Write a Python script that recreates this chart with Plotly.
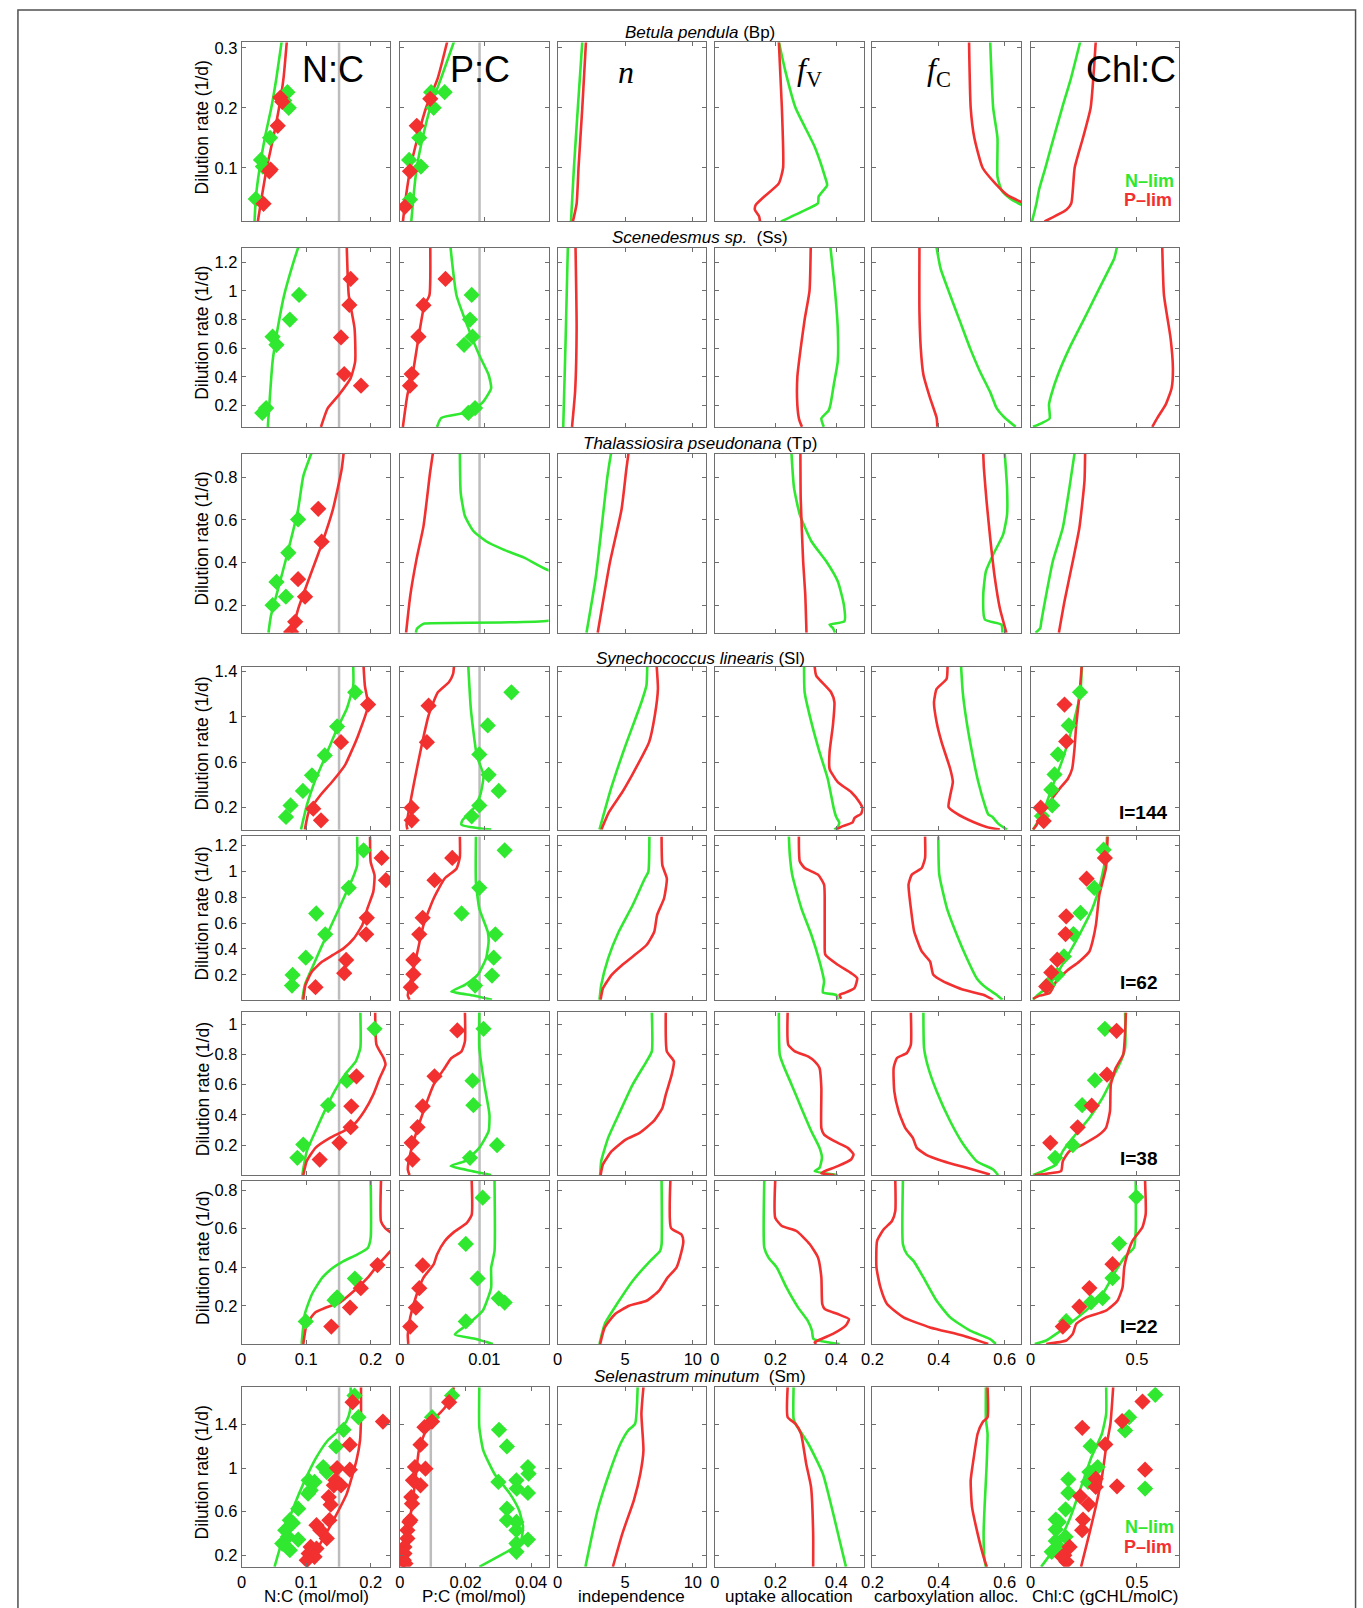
import plotly.graph_objects as go

W, H = 1363, 1608
GREEN = '#30e830'
RED = '#f23030'

# ---------------- data (D = dilution rate, v = value) ----------------
ROWS = ['bp', 'ss', 'tp', 'sl144', 'sl62', 'sl38', 'sl22', 'sm']
VARS = ['nc', 'pc', 'n', 'fv', 'fc', 'chl']
REDFIELD_NC = 0.151
REDFIELD_PC = 0.00943

# Betula pendula
bp_nc_N_d = [0.01, 0.05, 0.1, 0.15, 0.2, 0.25, 0.31]
bp_nc_N_v = [0.020, 0.022, 0.028, 0.036, 0.046, 0.054, 0.062]
bp_nc_P_d = [0.01, 0.05, 0.1, 0.15, 0.2, 0.25, 0.31]
bp_nc_P_v = [0.025, 0.031, 0.039, 0.049, 0.058, 0.065, 0.070]
bp_nc_Nobs_v = [0.022, 0.030, 0.033, 0.044, 0.071, 0.073, 0.066]
bp_nc_Nobs_d = [0.048, 0.113, 0.102, 0.15, 0.226, 0.20, 0.212]
bp_nc_Pobs_v = [0.034, 0.043, 0.045, 0.056, 0.060, 0.063]
bp_nc_Pobs_d = [0.040, 0.094, 0.097, 0.170, 0.217, 0.210]
bp_pc_N_d = [0.01, 0.05, 0.1, 0.15, 0.2, 0.25, 0.31]
bp_pc_N_v = [0.00135, 0.0016, 0.0020, 0.0027, 0.0036, 0.0049, 0.0064]
bp_pc_P_d = [0.01, 0.05, 0.1, 0.15, 0.2, 0.25, 0.31]
bp_pc_P_v = [0.00036, 0.0007, 0.00126, 0.0021, 0.0031, 0.0045, 0.0056]
bp_pc_Nobs_v = [0.0012, 0.0011, 0.0025, 0.0023, 0.0037, 0.0040, 0.0053]
bp_pc_Nobs_d = [0.047, 0.113, 0.102, 0.15, 0.226, 0.20, 0.226]
bp_pc_Pobs_v = [0.0006, 0.0012, 0.0020, 0.0036]
bp_pc_Pobs_d = [0.035, 0.094, 0.170, 0.215]
bp_n_N_d = [0.01, 0.1, 0.2, 0.31]
bp_n_N_v = [0.99, 1.21, 1.5, 1.83]
bp_n_P_d = [0.01, 0.04, 0.1, 0.2, 0.31]
bp_n_P_v = [1.13, 1.41, 1.55, 1.83, 2.1]
bp_fv_N_d = [0.0105, 0.027, 0.041, 0.052, 0.071, 0.085, 0.135, 0.2, 0.262, 0.31]
bp_fv_N_v = [0.218, 0.287, 0.340, 0.342, 0.370, 0.363, 0.329, 0.266, 0.232, 0.211]
bp_fv_P_d = [0.0105, 0.019, 0.03, 0.038, 0.052, 0.074, 0.1, 0.2, 0.31]
bp_fv_P_v = [0.149, 0.146, 0.132, 0.135, 0.163, 0.211, 0.225, 0.221, 0.211]
bp_fc_N_d = [0.038, 0.049, 0.063, 0.085, 0.15, 0.2, 0.31]
bp_fc_N_v = [0.65, 0.616, 0.590, 0.578, 0.578, 0.565, 0.556]
bp_fc_P_d = [0.043, 0.054, 0.074, 0.1, 0.15, 0.2, 0.31]
bp_fc_P_v = [0.65, 0.609, 0.571, 0.533, 0.508, 0.497, 0.492]
bp_chl_N_d = [0.0105, 0.03, 0.046, 0.063, 0.1, 0.15, 0.2, 0.25, 0.31]
bp_chl_N_v = [0.006, 0.020, 0.030, 0.039, 0.069, 0.108, 0.148, 0.19, 0.233]
bp_chl_P_d = [0.0105, 0.03, 0.041, 0.1, 0.15, 0.2, 0.31]
bp_chl_P_v = [0.065, 0.168, 0.191, 0.207, 0.246, 0.282, 0.306]

# Scenedesmus sp.
ss_nc_N_d = [0.049, 0.274, 0.507, 0.74, 0.972, 1.205, 1.302]
ss_nc_N_v = [0.0406, 0.044, 0.048, 0.056, 0.066, 0.0806, 0.0876]
ss_nc_P_d = [0.049, 0.18, 0.274, 0.39, 0.507, 0.74, 0.97, 1.302]
ss_nc_P_v = [0.123, 0.1335, 0.151, 0.169, 0.176, 0.175, 0.166, 0.163]
ss_nc_Nobs_v = [0.032, 0.038, 0.048, 0.054, 0.0747, 0.089]
ss_nc_Nobs_d = [0.147, 0.181, 0.68, 0.623, 0.80, 0.972]
ss_nc_Pobs_v = [0.169, 0.167, 0.154, 0.159, 0.185]
ss_nc_Pobs_d = [1.084, 0.902, 0.675, 0.419, 0.337]
ss_pc_N_d = [0.049, 0.112, 0.158, 0.228, 0.32, 0.414, 0.55, 0.74, 0.97, 1.302]
ss_pc_N_v = [0.0044, 0.0049, 0.0085, 0.0099, 0.0108, 0.0105, 0.0094, 0.0081, 0.0067, 0.0060]
ss_pc_P_d = [0.049, 0.274, 0.414, 0.67, 0.9, 0.97, 1.302]
ss_pc_P_v = [0.00036, 0.0009, 0.0015, 0.0022, 0.0029, 0.0035, 0.0036]
ss_pc_Nobs_v = [0.0085, 0.0083, 0.0086, 0.0076, 0.0081, 0.0089]
ss_pc_Nobs_d = [0.972, 0.8, 0.68, 0.623, 0.147, 0.181]
ss_pc_Pobs_v = [0.0054, 0.0028, 0.0022, 0.0014, 0.0012]
ss_pc_Pobs_d = [1.084, 0.9, 0.68, 0.419, 0.337]
ss_n_N_d = [0.049, 0.6, 1.302]
ss_n_N_v = [0.42, 0.58, 0.76]
ss_n_P_d = [0.049, 0.3, 0.74, 1.302]
ss_n_P_v = [1.07, 1.30, 1.41, 1.33]
ss_fv_N_d = [0.05, 0.108, 0.164, 0.205, 0.345, 0.507, 0.74, 1.0, 1.302]
ss_fv_N_v = [0.359, 0.351, 0.375, 0.381, 0.392, 0.405, 0.405, 0.396, 0.381]
ss_fv_P_d = [0.05, 0.1, 0.2, 0.4, 0.6, 0.8, 1.0, 1.302]
ss_fv_P_v = [0.287, 0.278, 0.272, 0.272, 0.283, 0.296, 0.312, 0.316]
ss_fc_N_d = [0.05, 0.113, 0.182, 0.287, 0.437, 0.6, 0.785, 0.97, 1.156, 1.302]
ss_fc_N_v = [0.633, 0.6, 0.575, 0.557, 0.525, 0.495, 0.465, 0.435, 0.406, 0.394]
ss_fc_P_d = [0.05, 0.113, 0.252, 0.414, 0.6, 0.855, 1.302]
ss_fc_P_v = [0.396, 0.394, 0.374, 0.354, 0.346, 0.342, 0.342]
ss_chl_N_d = [0.05, 0.078, 0.108, 0.205, 0.275, 0.414, 0.6, 0.785, 0.97, 1.133, 1.226, 1.302]
ss_chl_N_v = [0.011, 0.055, 0.089, 0.086, 0.097, 0.128, 0.182, 0.245, 0.307, 0.362, 0.393, 0.405]
ss_chl_P_d = [0.05, 0.113, 0.205, 0.32, 0.46, 0.67, 0.97, 1.302]
ss_chl_P_v = [0.572, 0.596, 0.635, 0.663, 0.669, 0.658, 0.627, 0.619]

# Thalassiosira pseudonana
tp_nc_N_d = [0.071, 0.15, 0.259, 0.446, 0.649, 0.805, 0.911]
tp_nc_N_v = [0.0416, 0.0454, 0.055, 0.0713, 0.0875, 0.0956, 0.108]
tp_nc_P_d = [0.071, 0.181, 0.337, 0.493, 0.649, 0.836, 0.911]
tp_nc_P_v = [0.0778, 0.0875, 0.106, 0.125, 0.1415, 0.155, 0.158]
tp_nc_Nobs_v = [0.0875, 0.0724, 0.054, 0.0686, 0.048]
tp_nc_Nobs_d = [0.602, 0.446, 0.309, 0.24, 0.2]
tp_nc_Pobs_v = [0.1188, 0.124, 0.0875, 0.0983, 0.083, 0.0767]
tp_nc_Pobs_d = [0.652, 0.498, 0.322, 0.24, 0.122, 0.075]
tp_pc_N_d = [0.071, 0.088, 0.106, 0.114, 0.127, 0.25, 0.365, 0.423, 0.462, 0.5, 0.548, 0.618, 0.727, 0.911]
tp_pc_N_v = [0.0019, 0.0020, 0.0025, 0.0029, 0.0176, 0.030, 0.0175, 0.0147, 0.0122, 0.0102, 0.0087, 0.0077, 0.0072, 0.0071]
tp_pc_P_d = [0.071, 0.244, 0.415, 0.571, 0.82, 0.911]
tp_pc_P_v = [0.00074, 0.00123, 0.00197, 0.0028, 0.00357, 0.0039]
tp_n_N_d = [0.071, 0.337, 0.805, 0.911]
tp_n_N_v = [2.14, 2.84, 3.69, 3.95]
tp_n_P_d = [0.071, 0.4, 0.649, 0.84, 0.911]
tp_n_P_v = [2.97, 3.87, 4.73, 5.09, 5.24]
tp_fv_N_d = [0.071, 0.093, 0.109, 0.125, 0.203, 0.312, 0.406, 0.5, 0.625, 0.75, 0.911]
tp_fv_N_v = [0.396, 0.389, 0.378, 0.427, 0.425, 0.405, 0.367, 0.318, 0.28, 0.261, 0.2526]
tp_fv_P_d = [0.071, 0.25, 0.406, 0.7, 0.911]
tp_fv_P_v = [0.302, 0.298, 0.291, 0.283, 0.282]
tp_fc_N_d = [0.071, 0.109, 0.133, 0.25, 0.359, 0.438, 0.531, 0.625, 0.75, 0.911]
tp_fc_N_v = [0.593, 0.59, 0.54, 0.535, 0.543, 0.565, 0.595, 0.607, 0.607, 0.6]
tp_fc_P_d = [0.071, 0.187, 0.328, 0.5, 0.688, 0.84, 0.911]
tp_fc_P_v = [0.605, 0.585, 0.57, 0.557, 0.545, 0.537, 0.535]
tp_chl_N_d = [0.071, 0.093, 0.125, 0.25, 0.406, 0.563, 0.75, 0.911]
tp_chl_N_v = [0.023, 0.045, 0.05, 0.073, 0.104, 0.151, 0.182, 0.206]
tp_chl_P_d = [0.071, 0.219, 0.406, 0.563, 0.782, 0.911]
tp_chl_P_v = [0.1325, 0.159, 0.198, 0.229, 0.253, 0.256]

# Synechococcus linearis, I=144
sl144_nc_N_d = [0.006, 0.22, 0.426, 0.661, 0.896, 1.072, 1.277, 1.444]
sl144_nc_N_v = [0.092, 0.101, 0.113, 0.1306, 0.148, 0.163, 0.173, 0.173]
sl144_nc_P_d = [0.006, 0.162, 0.309, 0.426, 0.573, 0.72, 0.837, 1.1, 1.277, 1.444]
sl144_nc_P_v = [0.098, 0.104, 0.122, 0.14, 0.16, 0.172, 0.1806, 0.196, 0.191, 0.189]
sl144_nc_Nobs_v = [0.0688, 0.0759, 0.095, 0.109, 0.1288, 0.148, 0.176]
sl144_nc_Nobs_d = [0.118, 0.22, 0.347, 0.485, 0.661, 0.916, 1.218]
sl144_nc_Pobs_v = [0.196, 0.154, 0.111, 0.123]
sl144_nc_Pobs_d = [1.11, 0.778, 0.191, 0.088]
sl144_pc_N_d = [0.006, 0.05, 0.088, 0.191, 0.309, 0.485, 0.661, 1.072, 1.444]
sl144_pc_N_v = [0.0108, 0.0073, 0.0074, 0.0087, 0.0095, 0.0099, 0.0091, 0.0084, 0.0081]
sl144_pc_P_d = [0.006, 0.05, 0.191, 0.426, 0.72, 1.013, 1.218, 1.307, 1.38, 1.444]
sl144_pc_P_v = [0.0009, 0.0008, 0.0011, 0.0017, 0.0025, 0.0034, 0.0045, 0.0058, 0.0063, 0.0064]
sl144_pc_Nobs_v = [0.0132, 0.0104, 0.0094, 0.0105, 0.0117, 0.0094, 0.0085]
sl144_pc_Nobs_d = [1.218, 0.925, 0.67, 0.49, 0.347, 0.22, 0.124]
sl144_pc_Pobs_v = [0.0034, 0.0032, 0.0014, 0.0014]
sl144_pc_Pobs_d = [1.1, 0.778, 0.2, 0.088]
sl144_n_N_d = [0.006, 0.367, 0.72, 1.13, 1.277, 1.444]
sl144_n_N_v = [3.1, 3.95, 4.94, 6.2, 6.57, 6.63]
sl144_n_P_d = [0.006, 0.162, 0.338, 0.485, 0.661, 0.778, 1.013, 1.248, 1.444]
sl144_n_P_v = [3.24, 3.81, 4.79, 5.5, 6.29, 6.77, 7.19, 7.42, 7.33]
sl144_fv_N_d = [0.006, 0.03, 0.07, 0.117, 0.191, 0.455, 0.69, 0.954, 1.218, 1.444]
sl144_fv_N_v = [0.394, 0.405, 0.41, 0.40, 0.392, 0.372, 0.345, 0.318, 0.296, 0.294]
sl144_fv_P_d = [0.006, 0.03, 0.07, 0.108, 0.147, 0.191, 0.25, 0.338, 0.426, 0.543, 0.69, 0.925, 1.13, 1.218, 1.365, 1.444]
sl144_fv_P_v = [0.40, 0.416, 0.454, 0.46, 0.482, 0.487, 0.476, 0.449, 0.405, 0.378, 0.378, 0.389, 0.394, 0.383, 0.334, 0.329]
sl144_fc_N_d = [0.006, 0.059, 0.117, 0.141, 0.22, 0.426, 0.66, 0.954, 1.218, 1.444]
sl144_fc_N_v = [0.607, 0.58, 0.563, 0.55, 0.54, 0.52, 0.503, 0.485, 0.473, 0.468]
sl144_fc_P_d = [0.006, 0.03, 0.073, 0.147, 0.206, 0.308, 0.426, 0.543, 0.778, 0.954, 1.13, 1.247, 1.335, 1.444]
sl144_fc_P_v = [0.585, 0.545, 0.505, 0.455, 0.43, 0.435, 0.443, 0.435, 0.409, 0.394, 0.386, 0.394, 0.424, 0.427]
sl144_chl_N_d = [0.006, 0.103, 0.191, 0.397, 0.631, 0.925, 1.218, 1.444]
sl144_chl_N_v = [0.011, 0.042, 0.065, 0.104, 0.151, 0.198, 0.234, 0.24]
sl144_chl_P_d = [0.006, 0.044, 0.132, 0.25, 0.367, 0.455, 0.543, 0.719, 0.925, 1.189, 1.444]
sl144_chl_P_v = [0.011, 0.0265, 0.05, 0.089, 0.136, 0.175, 0.195, 0.206, 0.214, 0.229, 0.24]
sl144_chl_Nobs_v = [0.232, 0.179, 0.128, 0.112, 0.097, 0.101, 0.053]
sl144_chl_Nobs_d = [1.218, 0.925, 0.669, 0.493, 0.358, 0.22, 0.126]
sl144_chl_Pobs_v = [0.159, 0.167, 0.047, 0.061]
sl144_chl_Pobs_d = [1.11, 0.784, 0.2, 0.082]

# Synechococcus linearis, I=62
sl62_nc_N_d = [0.008, 0.123, 0.251, 0.405, 0.61, 0.79, 0.969, 1.046, 1.269]
sl62_nc_N_v = [0.094, 0.098, 0.109, 0.1226, 0.1415, 0.158, 0.174, 0.179, 0.179]
sl62_nc_P_d = [0.008, 0.123, 0.226, 0.303, 0.354, 0.405, 0.482, 0.585, 0.713, 0.841, 0.969, 1.072, 1.269]
sl62_nc_P_v = [0.0956, 0.099, 0.109, 0.125, 0.1415, 0.158, 0.174, 0.187, 0.195, 0.204, 0.206, 0.20, 0.199]
sl62_nc_Nobs_v = [0.189, 0.166, 0.1156, 0.1296, 0.0994, 0.079, 0.078]
sl62_nc_Nobs_d = [1.162, 0.872, 0.674, 0.513, 0.333, 0.2, 0.118]
sl62_nc_Pobs_v = [0.217, 0.2236, 0.194, 0.193, 0.162, 0.159, 0.1145]
sl62_nc_Pobs_d = [1.103, 0.931, 0.641, 0.513, 0.315, 0.213, 0.105]
sl62_pc_N_d = [0.008, 0.041, 0.072, 0.123, 0.2, 0.328, 0.456, 0.533, 0.713, 0.918, 1.269]
sl62_pc_N_v = [0.0109, 0.0087, 0.0061, 0.0077, 0.0092, 0.0102, 0.0105, 0.0104, 0.0094, 0.009, 0.009]
sl62_pc_P_d = [0.008, 0.04, 0.174, 0.354, 0.585, 0.79, 0.944, 1.02, 1.11, 1.269]
sl62_pc_P_v = [0.00115, 0.00094, 0.00136, 0.002, 0.0028, 0.004, 0.0053, 0.0067, 0.0071, 0.0071]
sl62_pc_Nobs_v = [0.0124, 0.0094, 0.0073, 0.0113, 0.0111, 0.0109, 0.0089]
sl62_pc_Nobs_d = [1.162, 0.872, 0.674, 0.513, 0.333, 0.195, 0.118]
sl62_pc_Pobs_v = [0.0062, 0.0041, 0.0027, 0.0023, 0.0016, 0.0016, 0.0013]
sl62_pc_Pobs_d = [1.103, 0.931, 0.641, 0.513, 0.315, 0.205, 0.105]
sl62_n_N_d = [0.008, 0.123, 0.328, 0.533, 0.738, 0.944, 0.995, 1.269]
sl62_n_N_v = [3.1, 3.23, 3.74, 4.52, 5.55, 6.45, 6.71, 6.79]
sl62_n_P_d = [0.008, 0.097, 0.2, 0.277, 0.341, 0.431, 0.533, 0.662, 0.79, 0.944, 1.046, 1.269]
sl62_n_P_v = [3.18, 3.36, 4.0, 4.78, 5.55, 6.58, 7.15, 7.36, 7.87, 8.08, 7.75, 7.69]
sl62_fv_N_d = [0.008, 0.045, 0.065, 0.15, 0.304, 0.51, 0.716, 0.974, 1.128, 1.27]
sl62_fv_N_v = [0.405, 0.40, 0.356, 0.36, 0.345, 0.318, 0.285, 0.255, 0.247, 0.244]
sl62_fv_P_d = [0.016, 0.047, 0.06, 0.098, 0.175, 0.214, 0.278, 0.356, 0.459, 0.716, 0.897, 0.974, 1.025, 1.077, 1.27]
sl62_fv_P_v = [0.416, 0.411, 0.427, 0.46, 0.469, 0.449, 0.405, 0.364, 0.362, 0.362, 0.36, 0.34, 0.296, 0.28, 0.277]
sl62_fc_N_d = [0.008, 0.047, 0.098, 0.175, 0.33, 0.51, 0.716, 0.974, 1.27]
sl62_fc_N_v = [0.593, 0.575, 0.545, 0.515, 0.485, 0.455, 0.425, 0.402, 0.399]
sl62_fc_P_d = [0.008, 0.047, 0.085, 0.15, 0.201, 0.304, 0.381, 0.536, 0.716, 0.897, 0.974, 1.025, 1.103, 1.27]
sl62_fc_P_v = [0.565, 0.535, 0.475, 0.414, 0.384, 0.374, 0.349, 0.326, 0.316, 0.309, 0.319, 0.349, 0.359, 0.359]
sl62_chl_N_d = [0.008, 0.047, 0.098, 0.201, 0.33, 0.51, 0.716, 0.922, 1.128, 1.27]
sl62_chl_N_v = [0.011, 0.034, 0.073, 0.12, 0.167, 0.229, 0.291, 0.33, 0.354, 0.359]
sl62_chl_P_d = [0.016, 0.04, 0.06, 0.15, 0.227, 0.304, 0.381, 0.459, 0.588, 0.819, 1.025, 1.27]
sl62_chl_P_v = [0.011, 0.042, 0.089, 0.12, 0.167, 0.229, 0.276, 0.291, 0.307, 0.323, 0.354, 0.362]
sl62_chl_Nobs_v = [0.343, 0.299, 0.234, 0.201, 0.156, 0.125, 0.081]
sl62_chl_Nobs_d = [1.167, 0.871, 0.678, 0.515, 0.343, 0.201, 0.124]
sl62_chl_Pobs_v = [0.349, 0.263, 0.167, 0.164, 0.125, 0.097, 0.073]
sl62_chl_Pobs_d = [1.103, 0.943, 0.652, 0.515, 0.317, 0.219, 0.111]

# Synechococcus linearis, I=38
sl38_nc_N_d = [0.002, 0.16, 0.292, 0.446, 0.556, 0.666, 0.754, 0.842, 1.077]
sl38_nc_N_v = [0.094, 0.101, 0.1145, 0.131, 0.144, 0.16, 0.177, 0.184, 0.184]
sl38_nc_P_d = [0.002, 0.095, 0.182, 0.248, 0.292, 0.336, 0.424, 0.534, 0.644, 0.732, 0.776, 0.864, 1.077]
sl38_nc_P_v = [0.0956, 0.101, 0.1145, 0.137, 0.158, 0.174, 0.19, 0.204, 0.214, 0.223, 0.22, 0.209, 0.207]
sl38_nc_Nobs_v = [0.206, 0.163, 0.134, 0.0956, 0.0864]
sl38_nc_Nobs_d = [0.969, 0.626, 0.464, 0.204, 0.116]
sl38_nc_Pobs_v = [0.178, 0.17, 0.169, 0.1516, 0.121]
sl38_nc_Pobs_d = [0.655, 0.457, 0.319, 0.215, 0.105]
sl38_pc_N_d = [0.002, 0.029, 0.062, 0.095, 0.182, 0.292, 0.402, 0.6, 0.842, 1.077]
sl38_pc_N_v = [0.0108, 0.0085, 0.006, 0.0077, 0.0094, 0.0105, 0.0106, 0.010, 0.0094, 0.0094]
sl38_pc_P_d = [0.002, 0.04, 0.16, 0.292, 0.424, 0.6, 0.71, 0.776, 0.82, 0.886, 1.077]
sl38_pc_P_v = [0.00115, 0.00094, 0.0013, 0.002, 0.0028, 0.004, 0.0053, 0.0061, 0.0073, 0.0077, 0.0077]
sl38_pc_Nobs_v = [0.0099, 0.0086, 0.0087, 0.0115, 0.0083]
sl38_pc_Nobs_d = [0.969, 0.626, 0.464, 0.2, 0.116]
sl38_pc_Pobs_v = [0.0068, 0.0041, 0.0027, 0.0021, 0.0014, 0.0015]
sl38_pc_Pobs_d = [0.958, 0.655, 0.457, 0.319, 0.215, 0.105]
sl38_n_N_d = [0.002, 0.095, 0.248, 0.402, 0.6, 0.754, 0.82, 1.077]
sl38_n_N_v = [3.15, 3.23, 3.74, 4.52, 5.55, 6.58, 6.97, 6.97]
sl38_n_P_d = [0.002, 0.073, 0.16, 0.237, 0.281, 0.358, 0.446, 0.534, 0.666, 0.754, 0.82, 1.077]
sl38_n_P_v = [3.18, 3.36, 4.0, 5.04, 6.07, 7.1, 7.75, 8.0, 8.44, 8.6, 8.08, 8.0]
sl38_fv_N_d = [0.002, 0.028, 0.05, 0.116, 0.182, 0.292, 0.446, 0.6, 0.732, 0.798, 1.077]
sl38_fv_N_v = [0.405, 0.329, 0.345, 0.353, 0.345, 0.318, 0.285, 0.253, 0.225, 0.214, 0.211]
sl38_fv_P_d = [0.002, 0.013, 0.028, 0.061, 0.105, 0.138, 0.182, 0.226, 0.27, 0.314, 0.578, 0.71, 0.754, 0.787, 0.82, 0.864, 1.077]
sl38_fv_P_v = [0.394, 0.351, 0.362, 0.405, 0.449, 0.457, 0.438, 0.394, 0.36, 0.351, 0.351, 0.345, 0.329, 0.307, 0.264, 0.242, 0.24]
sl38_fc_N_d = [0.002, 0.039, 0.094, 0.204, 0.358, 0.556, 0.71, 0.842, 1.077]
sl38_fc_N_v = [0.58, 0.565, 0.515, 0.475, 0.435, 0.394, 0.369, 0.356, 0.354]
sl38_fc_P_d = [0.006, 0.05, 0.094, 0.134, 0.182, 0.248, 0.314, 0.424, 0.556, 0.71, 0.776, 0.809, 0.864, 1.077]
sl38_fc_P_v = [0.555, 0.485, 0.414, 0.364, 0.334, 0.322, 0.299, 0.279, 0.266, 0.264, 0.274, 0.304, 0.316, 0.316]
sl38_chl_N_d = [0.002, 0.028, 0.072, 0.16, 0.248, 0.38, 0.512, 0.666, 0.754, 0.842, 1.077]
sl38_chl_N_v = [0.011, 0.058, 0.12, 0.151, 0.198, 0.276, 0.338, 0.393, 0.424, 0.444, 0.444]
sl38_chl_P_d = [0.002, 0.014, 0.028, 0.094, 0.16, 0.204, 0.27, 0.314, 0.424, 0.6, 0.71, 0.798, 1.077]
sl38_chl_P_v = [0.019, 0.089, 0.143, 0.151, 0.182, 0.245, 0.323, 0.354, 0.373, 0.377, 0.4, 0.435, 0.448]
sl38_chl_Nobs_v = [0.349, 0.302, 0.242, 0.198, 0.115]
sl38_chl_Nobs_d = [0.969, 0.629, 0.464, 0.2, 0.116]
sl38_chl_Pobs_v = [0.404, 0.359, 0.287, 0.221, 0.092]
sl38_chl_Pobs_d = [0.956, 0.666, 0.461, 0.318, 0.215]

# Synechococcus linearis, I=22
sl22_nc_N_d = [0.002, 0.157, 0.26, 0.346, 0.397, 0.432, 0.466, 0.5, 0.552, 0.847]
sl22_nc_N_v = [0.093, 0.098, 0.109, 0.125, 0.1415, 0.158, 0.179, 0.1955, 0.2, 0.2]
sl22_nc_P_d = [0.002, 0.106, 0.166, 0.191, 0.217, 0.277, 0.346, 0.415, 0.483, 0.54, 0.603, 0.638, 0.847]
sl22_nc_P_v = [0.0956, 0.101, 0.1145, 0.1307, 0.152, 0.174, 0.1955, 0.2117, 0.2306, 0.245, 0.2225, 0.216, 0.216]
sl22_nc_Nobs_v = [0.0994, 0.144, 0.148, 0.1755]
sl22_nc_Nobs_d = [0.119, 0.229, 0.243, 0.341]
sl22_nc_Pobs_v = [0.139, 0.168, 0.1847, 0.2106]
sl22_nc_Pobs_d = [0.092, 0.191, 0.291, 0.411]
sl22_pc_N_d = [0.002, 0.028, 0.051, 0.106, 0.174, 0.294, 0.397, 0.483, 0.847]
sl22_pc_N_v = [0.011, 0.009, 0.0065, 0.0081, 0.0098, 0.0108, 0.0108, 0.0112, 0.0112]
sl22_pc_P_d = [0.002, 0.05, 0.14, 0.26, 0.346, 0.415, 0.466, 0.535, 0.586, 0.629, 0.672, 0.847]
sl22_pc_P_v = [0.001, 0.00094, 0.00123, 0.002, 0.0028, 0.004, 0.0044, 0.0053, 0.0065, 0.0079, 0.0085, 0.0085]
sl22_pc_Nobs_v = [0.0098, 0.0078, 0.0092, 0.0117, 0.0124, 0.0078]
sl22_pc_Nobs_d = [0.761, 0.521, 0.342, 0.239, 0.217, 0.119]
sl22_pc_Pobs_v = [0.0027, 0.0023, 0.0019, 0.00123]
sl22_pc_Pobs_d = [0.409, 0.291, 0.191, 0.092]
sl22_n_N_d = [0.002, 0.106, 0.209, 0.329, 0.432, 0.483, 0.518, 0.847]
sl22_n_N_v = [3.1, 3.49, 4.39, 5.55, 6.84, 7.57, 7.69, 7.69]
sl22_n_P_d = [0.002, 0.088, 0.157, 0.2, 0.226, 0.277, 0.346, 0.397, 0.449, 0.535, 0.569, 0.603, 0.847]
sl22_n_P_v = [3.15, 3.49, 4.26, 5.29, 6.58, 7.49, 8.13, 8.78, 9.04, 9.3, 9.17, 8.39, 8.34]
sl22_fv_N_d = [0.002, 0.028, 0.071, 0.123, 0.192, 0.295, 0.399, 0.45, 0.502, 0.847]
sl22_fv_N_v = [0.411, 0.325, 0.32, 0.306, 0.274, 0.236, 0.204, 0.177, 0.163, 0.163]
sl22_fv_P_d = [0.002, 0.011, 0.02, 0.054, 0.097, 0.131, 0.157, 0.183, 0.209, 0.347, 0.45, 0.519, 0.588, 0.614, 0.657, 0.847]
sl22_fv_P_v = [0.334, 0.329, 0.34, 0.389, 0.431, 0.442, 0.405, 0.362, 0.354, 0.351, 0.34, 0.313, 0.269, 0.221, 0.199, 0.199]
sl22_fc_N_d = [0.002, 0.028, 0.071, 0.14, 0.226, 0.347, 0.433, 0.468, 0.519, 0.847]
sl22_fc_N_v = [0.573, 0.555, 0.495, 0.435, 0.394, 0.354, 0.324, 0.304, 0.292, 0.292]
sl22_fc_P_d = [0.002, 0.045, 0.088, 0.14, 0.209, 0.295, 0.399, 0.537, 0.597, 0.64, 0.692, 0.847]
sl22_fc_P_v = [0.55, 0.475, 0.374, 0.294, 0.244, 0.224, 0.212, 0.214, 0.234, 0.259, 0.269, 0.269]
sl22_chl_N_d = [0.002, 0.02, 0.054, 0.106, 0.175, 0.261, 0.381, 0.45, 0.502, 0.588, 0.847]
sl22_chl_N_v = [0.019, 0.073, 0.12, 0.182, 0.26, 0.338, 0.4, 0.44, 0.486, 0.494, 0.494]
sl22_chl_P_d = [0.002, 0.02, 0.054, 0.106, 0.14, 0.175, 0.226, 0.295, 0.399, 0.468, 0.537, 0.606, 0.675, 0.847]
sl22_chl_P_v = [0.073, 0.167, 0.198, 0.214, 0.26, 0.354, 0.408, 0.432, 0.44, 0.455, 0.479, 0.525, 0.541, 0.538]
sl22_chl_Nobs_v = [0.497, 0.416, 0.385, 0.338, 0.284, 0.167]
sl22_chl_Nobs_d = [0.764, 0.523, 0.344, 0.24, 0.218, 0.12]
sl22_chl_Pobs_v = [0.385, 0.276, 0.229, 0.151]
sl22_chl_Pobs_d = [0.416, 0.292, 0.195, 0.092]

# Selenastrum minutum
sm_nc_N_d = [0.093, 0.398, 0.643, 0.887, 1.1, 1.253, 1.345, 1.436, 1.528, 1.742]
sm_nc_N_v = [0.051, 0.066, 0.0806, 0.098, 0.116, 0.1335, 0.151, 0.163, 0.168, 0.169]
sm_nc_P_d = [0.093, 0.215, 0.368, 0.551, 0.765, 1.07, 1.253, 1.467, 1.742]
sm_nc_P_v = [0.101, 0.113, 0.128, 0.145, 0.163, 0.178, 0.1835, 0.185, 0.185]
sm_nc_Nobs_v = [0.175, 0.181, 0.158, 0.1465, 0.1265, 0.132, 0.104, 0.113, 0.107, 0.103, 0.0877, 0.0747, 0.0794, 0.0676, 0.0718, 0.063, 0.0747, 0.0877]
sm_nc_Nobs_d = [1.666, 1.467, 1.351, 1.198, 1.009, 0.963, 0.887, 0.872, 0.795, 0.765, 0.627, 0.521, 0.496, 0.429, 0.368, 0.307, 0.246, 0.343]
sm_nc_Pobs_v = [0.219, 0.172, 0.1677, 0.1677, 0.148, 0.1454, 0.143, 0.154, 0.135, 0.138, 0.136, 0.116, 0.122, 0.132, 0.107, 0.116, 0.104, 0.113, 0.101]
sm_nc_Pobs_d = [1.427, 1.605, 1.214, 0.985, 1.0, 0.887, 0.841, 0.841, 0.734, 0.664, 0.521, 0.475, 0.429, 0.353, 0.276, 0.261, 0.215, 0.185, 0.154]
sm_pc_N_d = [0.093, 0.169, 0.246, 0.337, 0.46, 0.612, 0.765, 0.948, 1.162, 1.375, 1.742]
sm_pc_N_v = [0.0242, 0.0288, 0.0335, 0.0369, 0.0375, 0.0363, 0.0335, 0.0288, 0.0254, 0.0242, 0.0242]
sm_pc_P_d = [0.093, 0.337, 0.551, 0.856, 1.162, 1.315, 1.406, 1.559, 1.666, 1.742]
sm_pc_P_v = [0.0012, 0.0021, 0.0032, 0.0046, 0.0058, 0.0075, 0.0092, 0.0138, 0.0159, 0.0164]
sm_pc_Nobs_v = [0.0159, 0.0098, 0.0302, 0.0326, 0.039, 0.0392, 0.0355, 0.030, 0.0356, 0.039, 0.0326, 0.0326, 0.0355, 0.0355, 0.039, 0.0355, 0.0355]
sm_pc_Nobs_d = [1.666, 1.467, 1.351, 1.198, 1.009, 0.948, 0.887, 0.872, 0.811, 0.771, 0.627, 0.521, 0.505, 0.429, 0.343, 0.307, 0.231]
sm_pc_Pobs_v = [0.015, 0.0098, 0.0075, 0.0063, 0.0078, 0.0046, 0.004, 0.0063, 0.0035, 0.0037, 0.0032, 0.0023, 0.0023, 0.0014, 0.0014, 0.0012, 0.0017, 0.0029]
sm_pc_Pobs_d = [1.605, 1.427, 1.375, 1.214, 0.994, 1.009, 0.887, 0.841, 0.734, 0.673, 0.521, 0.429, 0.353, 0.276, 0.215, 0.154, 0.123, 0.505]
sm_n_N_d = [0.093, 0.612, 0.948, 1.223, 1.345, 1.406, 1.742]
sm_n_N_v = [2.06, 2.96, 3.81, 4.65, 5.22, 5.73, 5.92]
sm_n_P_d = [0.093, 0.398, 0.704, 0.948, 1.162, 1.498, 1.742]
sm_n_P_v = [4.09, 4.79, 5.64, 6.12, 6.35, 6.2, 6.35]
sm_fv_N_d = [0.093, 0.337, 0.582, 0.948, 1.223, 1.406, 1.452, 1.742]
sm_fv_N_v = [0.432, 0.411, 0.39, 0.356, 0.308, 0.266, 0.2595, 0.2595]
sm_fv_P_d = [0.093, 0.398, 0.826, 1.04, 1.315, 1.406, 1.467, 1.742]
sm_fv_P_v = [0.324, 0.324, 0.317, 0.301, 0.284, 0.266, 0.24, 0.24]
sm_fc_N_d = [0.093, 0.154, 0.398, 0.643, 1.009, 1.315, 1.452, 1.742]
sm_fc_N_v = [0.543, 0.539, 0.536, 0.539, 0.545, 0.548, 0.543, 0.543]
sm_fc_P_d = [0.093, 0.185, 0.398, 0.643, 0.887, 1.07, 1.315, 1.421, 1.467, 1.742]
sm_fc_P_v = [0.546, 0.536, 0.518, 0.501, 0.497, 0.505, 0.518, 0.533, 0.548, 0.548]
sm_chl_N_d = [0.093, 0.307, 0.551, 0.826, 1.101, 1.315, 1.498, 1.742]
sm_chl_N_v = [0.049, 0.128, 0.187, 0.237, 0.286, 0.335, 0.355, 0.355]
sm_chl_P_d = [0.093, 0.398, 0.643, 0.917, 1.192, 1.406, 1.742]
sm_chl_P_v = [0.237, 0.276, 0.306, 0.335, 0.355, 0.375, 0.388]
sm_chl_Nobs_v = [0.586, 0.463, 0.444, 0.282, 0.315, 0.276, 0.27, 0.177, 0.538, 0.177, 0.164, 0.118, 0.132, 0.118, 0.164, 0.118, 0.099, 0.134]
sm_chl_Nobs_d = [1.672, 1.467, 1.345, 1.201, 1.009, 0.963, 0.872, 0.896, 0.811, 0.771, 0.621, 0.527, 0.505, 0.435, 0.368, 0.331, 0.231, 0.27]
sm_chl_Pobs_v = [0.526, 0.43, 0.2425, 0.351, 0.538, 0.406, 0.306, 0.306, 0.233, 0.272, 0.246, 0.242, 0.183, 0.158, 0.168, 0.148]
sm_chl_Pobs_d = [1.61, 1.431, 1.37, 1.217, 0.985, 0.832, 0.902, 0.826, 0.74, 0.667, 0.527, 0.429, 0.276, 0.2, 0.14, 0.185]

# tick labels
ROW_YTICKS = [
    [0.1, 0.2, 0.3],
    [0.2, 0.4, 0.6, 0.8, 1, 1.2],
    [0.2, 0.4, 0.6, 0.8],
    [0.2, 0.6, 1, 1.4],
    [0.2, 0.4, 0.6, 0.8, 1, 1.2],
    [0.2, 0.4, 0.6, 0.8, 1],
    [0.2, 0.4, 0.6, 0.8],
    [0.2, 0.6, 1, 1.4],
]
COL_XTICKS = {'nc': [0, 0.1, 0.2], 'pc': [0, 0.01], 'n': [0, 5, 10],
              'fv': [0, 0.2, 0.4], 'fc': [0.2, 0.4, 0.6], 'chl': [0, 0.5]}
SM_PC_XTICKS = [0, 0.02, 0.04]
SPECIES_TITLES = ['<i>Betula pendula</i> (Bp)', '<i>Scenedesmus sp.</i>\u00a0 (Ss)',
                  '<i>Thalassiosira pseudonana</i> (Tp)', '<i>Synechococcus linearis</i> (Sl)',
                  '<i>Selenastrum minutum</i>\u00a0 (Sm)']
XTITLES = ['N:C (mol/mol)', 'P:C (mol/mol)', 'independence', 'uptake allocation',
           'carboxylation alloc.', 'Chl:C (gCHL/molC)']
LIGHT_LABELS = ['I=144', 'I=62', 'I=38', 'I=22']

# ---------------- geometry / axis settings ----------------
COL_L = [232.5, 392, 551, 709.5, 868.5, 1028]
PW = 150
ROW_TB = [(38.5, 218), (244.3, 424), (450.7, 630.3), (664.3, 827.7),
          (834.5, 998.3), (1011, 1174), (1180, 1343.3), (1386.7, 1566.7)]
XR = {'nc': [0, 0.2306], 'pc': [0, 0.0176], 'n': [0, 11], 'fv': [0, 0.49],
      'fc': [0.2, 0.65], 'chl': [0, 0.70]}
SM_PC_XR = [0, 0.0453]
YR = [[0.0105, 0.309], [0.049, 1.302], [0.071, 0.911], [0.006, 1.444],
      [0.0077, 1.269], [0.002, 1.077], [0.002, 0.847], [0.093, 1.742]]

FONT = 'Liberation Sans, Arial, Helvetica, sans-serif'
SERIF = 'Liberation Serif, DejaVu Serif, serif'
AXC = '#6e6e6e'
G = globals()


def fmt(v):
    return '%g' % v


def px(x):
    return x / W


def py(y):
    return 1 - y / H


fig = go.Figure()
layout = dict(width=W, height=H, margin=dict(l=0, r=0, t=0, b=0),
              paper_bgcolor='white', plot_bgcolor='white', showlegend=False,
              font=dict(family=FONT, size=16, color='black'))
shapes = []
annotations = []

for ri, r in enumerate(ROWS):
    top, bot = ROW_TB[ri]
    for ci, v in enumerate(VARS):
        k = ri * 6 + ci + 1
        xa = 'x' if k == 1 else 'x%d' % k
        ya = 'y' if k == 1 else 'y%d' % k
        for lim, col in (('N', GREEN), ('P', RED)):
            d = G.get('%s_%s_%s_d' % (r, v, lim))
            val = G.get('%s_%s_%s_v' % (r, v, lim))
            if d is not None:
                fig.add_trace(go.Scatter(x=val, y=d, mode='lines', xaxis=xa, yaxis=ya,
                                         line=dict(color=col, width=2.6, shape='spline', smoothing=0.5),
                                         hoverinfo='skip'))
        for lim, col in (('N', GREEN), ('P', RED)):
            d = G.get('%s_%s_%sobs_d' % (r, v, lim))
            val = G.get('%s_%s_%sobs_v' % (r, v, lim))
            if d is not None:
                fig.add_trace(go.Scatter(x=val, y=d, mode='markers', xaxis=xa, yaxis=ya,
                                         marker=dict(symbol='diamond', size=12.5, color=col,
                                                     line=dict(width=0)),
                                         hoverinfo='skip'))
        xr = SM_PC_XR if (r == 'sm' and v == 'pc') else XR[v]
        xt = SM_PC_XTICKS if (r == 'sm' and v == 'pc') else COL_XTICKS[v]
        common = dict(showline=True, linecolor=AXC, linewidth=1, mirror='allticks',
                      ticks='inside', ticklen=4, tickcolor=AXC, tickwidth=1,
                      showgrid=False, zeroline=False,
                      tickfont=dict(family=FONT, size=16.5, color='black'))
        layout['xaxis' if k == 1 else 'xaxis%d' % k] = dict(
            domain=[px(COL_L[ci]), px(COL_L[ci] + PW)], anchor=ya, range=xr,
            tickvals=xt, ticktext=[fmt(t) for t in xt],
            showticklabels=(ri >= 6), **common)
        yt = ROW_YTICKS[ri]
        layout['yaxis' if k == 1 else 'yaxis%d' % k] = dict(
            domain=[py(bot), py(top)], anchor=xa, range=YR[ri],
            tickvals=yt, ticktext=[fmt(t) for t in yt],
            showticklabels=(ci == 0), **common)
        if v in ('nc', 'pc'):
            xv = REDFIELD_NC if v == 'nc' else REDFIELD_PC
            shapes.append(dict(type='line', xref=xa, yref=ya + ' domain', x0=xv, x1=xv,
                               y0=0, y1=1, layer='below',
                               line=dict(color='#bdbdbd', width=2.5)))
    annotations.append(dict(text='Dilution rate (1/d)', x=px(193), y=py((top + bot) / 2 - 5),
                            xref='paper', yref='paper', showarrow=False, textangle=-90,
                            font=dict(family=FONT, size=17.5, color='black'),
                            xanchor='center', yanchor='middle'))


def ann(text, x, y, size, color='black', xanchor='center', family=FONT):
    annotations.append(dict(text=text, x=px(x), y=py(y), xref='paper', yref='paper',
                            showarrow=False, xanchor=xanchor, yanchor='middle',
                            font=dict(family=family, size=size, color=color)))


for t, yy in zip(SPECIES_TITLES, [29, 234, 441, 656, 1376]):
    ann(t, 695, yy, 17)

ann('N:C', 325, 66, 36)
ann('P:C', 473, 66, 36)
ann('<i>n</i>', 620, 68, 32, family=SERIF)
ann('<i>f</i><sub>V</sub>', 805, 68, 32, family=SERIF)
ann('<i>f</i><sub>C</sub>', 936, 68, 32, family=SERIF)
ann('Chl:C', 1176, 66, 36, xanchor='right')

for yN in (177, 1527):
    ann('<b>N\u2013lim</b>', 1174, yN, 18, color=GREEN, xanchor='right')
    ann('<b>P\u2013lim</b>', 1172, yN + 19.5, 18, color=RED, xanchor='right')

for txt, (xr_, yy) in zip(LIGHT_LABELS, [(1168, 811), (1158, 981), (1158, 1157), (1158, 1326)]):
    ann('<b>%s</b>' % txt, xr_, yy, 19, xanchor='right')

for ci, t in enumerate(XTITLES):
    ann(t, COL_L[ci] + PW / 2, 1596, 17)

shapes.append(dict(type='rect', xref='paper', yref='paper', x0=px(7), x1=px(1355.5),
                   y0=py(1640), y1=py(6), line=dict(color='#505050', width=1.5),
                   fillcolor='rgba(0,0,0,0)', layer='above'))

layout['shapes'] = shapes
layout['annotations'] = annotations
fig.update_layout(**layout)
fig.write_html('out.html')
